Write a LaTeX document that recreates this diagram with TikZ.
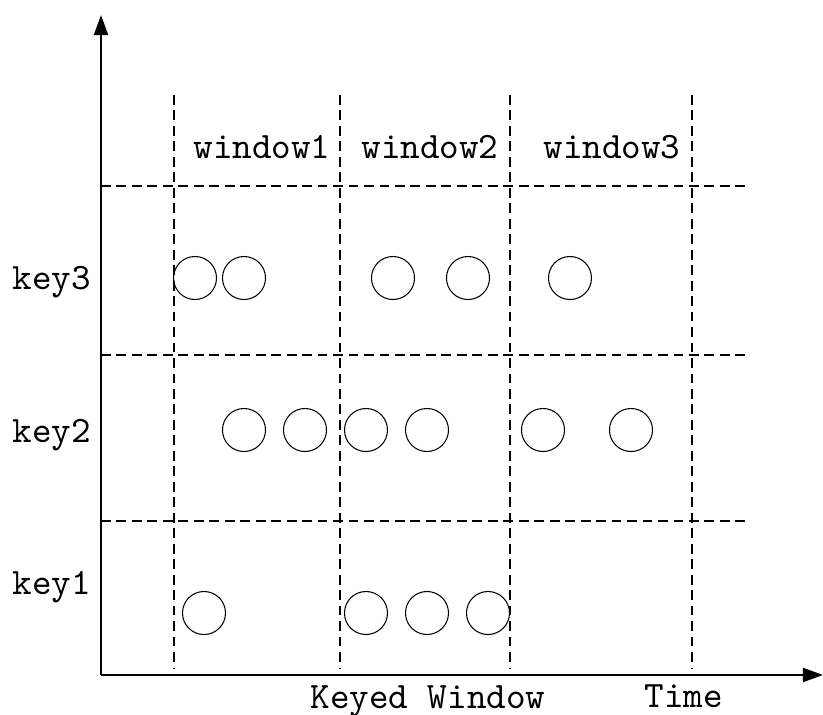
\documentclass[tikz,border=0pt]{standalone}
\usetikzlibrary{arrows.meta}
\begin{document}
\begin{tikzpicture}[x=0.01cm, y=-0.01cm, font=\fontsize{10.6}{12}\selectfont\ttfamily, line join=round, >={Triangle[length=0.2cm,width=0.14cm]}]
	\tikzset{grid/.style={dash pattern=on 2.8pt off 1.6pt, line width=0.45pt},
		dot/.style={circle, draw, line width=0.3pt, minimum size=0.43cm, inner sep=0pt},
		lab/.style={anchor=base, inner sep=0pt}}
	\useasboundingbox (0,0) rectangle (823,714);
	% axes
	\coordinate (O) at (101,675);
	\coordinate (ytip) at (101,15);
	\coordinate (xtip) at (823,675);
	\draw[->, line width=0.6pt] (O) -- (ytip);
	\draw[->, line width=0.6pt] (O) -- (xtip);
	% window borders and key rows
	\foreach \x in {174,340,510,692} \draw[grid] (\x,95) -- (\x,668);
	\foreach \y in {186,355,521} \draw[grid] (101,\y) -- (750,\y);
	\node[lab] (w1) at (262,158) {window1};
	\node[lab] (w2) at (430,158) {window2};
	\node[lab] (w3) at (612,158) {window3};
	\node[lab] (k3) at (52,289) {key3};
	\node[lab] (k2) at (52,442) {key2};
	\node[lab] (k1) at (52,594) {key1};
	\node[lab] (kw) at (428,708) {Keyed Window};
	\node[lab] (time) at (684,707) {Time};
	% events
	\foreach \x [count=\i] in {195,244,393,468,570} \node[dot] (a\i) at (\x,278) {};
	\foreach \x [count=\i] in {244,305,366,427,543,631} \node[dot] (b\i) at (\x,430) {};
	\foreach \x [count=\i] in {204,366,427,488} \node[dot] (c\i) at (\x,613) {};
\end{tikzpicture}
\end{document}
